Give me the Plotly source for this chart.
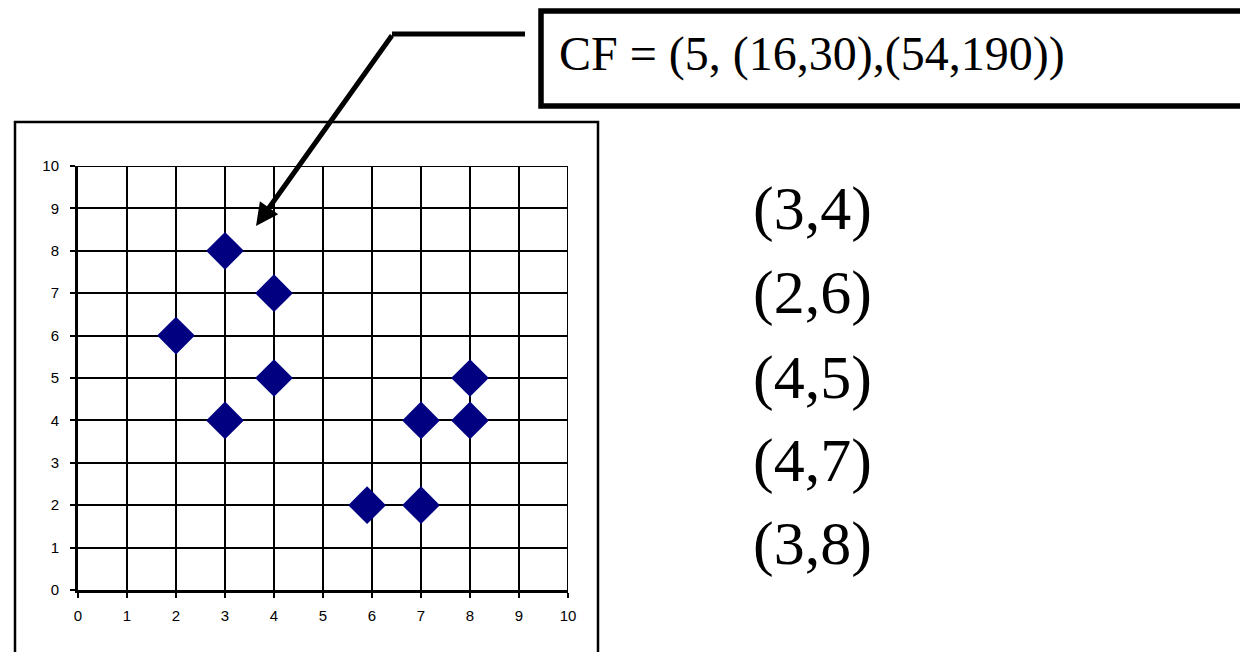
import plotly.graph_objects as go

# ---- data ----
cluster_x = [3, 2, 4, 4, 3]
cluster_y = [4, 6, 5, 7, 8]
other_x = [5.9, 7, 7, 8, 8]
other_y = [2, 2, 4, 4, 5]
tick_vals = list(range(0, 11))

all_x = cluster_x + other_x
all_y = cluster_y + other_y

n = len(cluster_x)
ls = (sum(cluster_x), sum(cluster_y))
ss = (sum(v * v for v in cluster_x), sum(v * v for v in cluster_y))
cf_text = f"CF = ({n}, ({ls[0]},{ls[1]}),({ss[0]},{ss[1]}))"
point_labels = [f"({a},{b})" for a, b in zip(cluster_x, cluster_y)]

# ---- layout geometry (window pixels) ----
W, H = 1240, 652
L, R, T, B = 78, 568, 166, 590


def px(x):
    return (x - L) / (R - L)


def py(y):
    return (B - y) / (B - T)


fig = go.Figure()
fig.add_trace(go.Scatter(
    x=all_x, y=all_y, mode="markers",
    marker=dict(symbol="diamond", size=29, color="#000080", line=dict(width=0)),
    showlegend=False, hoverinfo="x+y",
))

axis_common = dict(
    range=[0, 10], tickvals=tick_vals, showgrid=True, gridcolor="black", gridwidth=2,
    showline=True, linecolor="black", linewidth=3, mirror=False, zeroline=False,
    ticks="outside", ticklen=5, tickwidth=2, tickcolor="black",
    tickfont=dict(family="Arial, Liberation Sans", size=15, color="black"),
    fixedrange=True,
)
fig.update_xaxes(**axis_common, ticklabelstandoff=5)
fig.update_yaxes(**axis_common, ticklabelstandoff=8)

shapes = []
# outer chart frame
shapes.append(dict(type="rect", xref="paper", yref="paper",
                   x0=px(15), x1=px(598), y0=py(122), y1=py(700),
                   line=dict(color="black", width=2.5), layer="below"))
# top and right grid border lines
shapes.append(dict(type="line", xref="x", yref="y", x0=0, x1=10, y0=10, y1=10,
                   line=dict(color="black", width=2)))
shapes.append(dict(type="line", xref="x", yref="y", x0=10, x1=10, y0=0, y1=10,
                   line=dict(color="black", width=2)))
# CF box
shapes.append(dict(type="rect", xref="paper", yref="paper",
                   x0=px(541), x1=px(1270), y0=py(11), y1=py(106),
                   line=dict(color="black", width=5.5)))
# horizontal part of connector
shapes.append(dict(type="line", xref="paper", yref="paper",
                   x0=px(525), x1=px(392), y0=py(34), y1=py(34),
                   line=dict(color="black", width=5)))
fig.update_layout(shapes=shapes)

annotations = []
annotations.append(dict(
    xref="paper", yref="paper", x=px(557), y=py(54), xanchor="left", yanchor="middle",
    text=cf_text, showarrow=False,
    font=dict(family="Times New Roman, Liberation Serif, serif", size=48, color="black"),
))
# arrow
annotations.append(dict(
    xref="paper", yref="paper", x=px(256), y=py(226), text="", showarrow=True,
    axref="pixel", ayref="pixel", ax=393 - 256, ay=34 - 226,
    arrowhead=2, arrowsize=0.9, arrowwidth=5, arrowcolor="black",
))
label_y = [209, 292, 377, 460, 543]
for lab, yy in zip(point_labels, label_y):
    annotations.append(dict(
        xref="paper", yref="paper", x=px(751), y=py(yy), xanchor="left", yanchor="middle",
        text=lab, showarrow=False,
        font=dict(family="Times New Roman, Liberation Serif, serif", size=62, color="black"),
    ))
fig.update_layout(annotations=annotations)

fig.update_layout(
    width=W, height=H,
    margin=dict(l=L, r=W - R, t=T, b=H - B, autoexpand=False),
    paper_bgcolor="white", plot_bgcolor="white",
)

fig.write_html(
    "out.html",
    config={"displayModeBar": False},
    post_script="document.body.style.margin='0';document.body.style.overflow='hidden';",
)
